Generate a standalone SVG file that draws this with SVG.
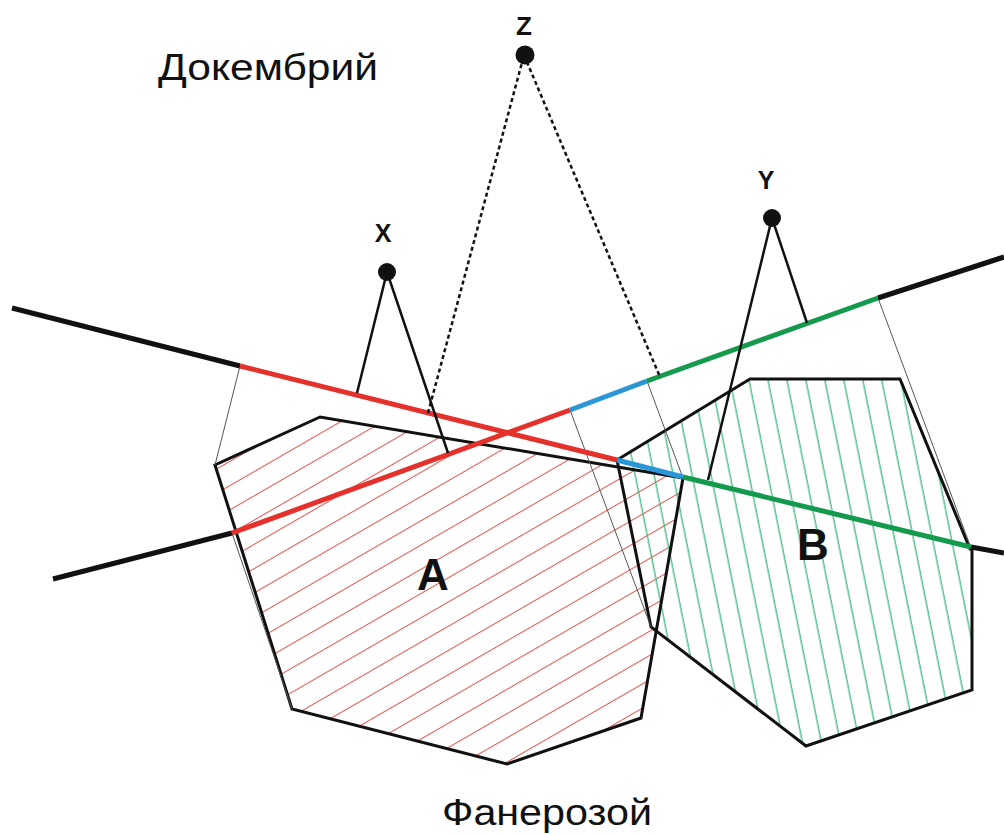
<svg xmlns="http://www.w3.org/2000/svg" width="1004" height="834" viewBox="0 0 1004 834">
<defs>
<style>
.poly{fill:none;stroke:#111;stroke-width:3;stroke-linejoin:miter}
.thin{stroke:#555;stroke-width:1;fill:none}
.prof{stroke-width:5;fill:none;stroke-linecap:butt}
.blk{stroke:#111}
.red{stroke:#e4312b}
.blu{stroke:#2b96d6}
.grn{stroke:#149a4d}
.leg{stroke:#111;stroke-width:2.5;fill:none}
.dash{stroke:#111;stroke-width:2.5;stroke-dasharray:4 3;fill:none}
.lbl{font-family:"Liberation Sans",Arial,sans-serif;font-weight:bold;fill:#111;text-anchor:middle}
.era{font-family:"Liberation Sans",Arial,sans-serif;font-size:36px;fill:#111}
</style>
<pattern id="hatchA" patternUnits="userSpaceOnUse" width="200" height="21" patternTransform="rotate(-30)">
<line x1="0" y1="10.5" x2="200" y2="10.5" stroke="#e8554f" stroke-width="1"/>
</pattern>
<pattern id="hatchB" patternUnits="userSpaceOnUse" width="18.6" height="200" patternTransform="rotate(-11.3)">
<line x1="9" y1="0" x2="9" y2="200" stroke="#2fb374" stroke-width="1.2"/>
</pattern>
</defs>
<rect width="1004" height="834" fill="#fff"/>

<g id="polygonA">
<polygon points="320,417 215,465 292,709 507,764 641,718 683,478" fill="url(#hatchA)" stroke="none"/>
</g>
<g id="polygonB">
<polygon points="617,460 750,379 900,379 970,549 972,549 972,690 806,746 651,627" fill="url(#hatchB)" stroke="none"/>
</g>
<g id="outlines">
<polygon class="poly" points="320,417 215,465 292,709 507,764 641,718 683,478"/>
<polygon class="poly" points="617,460 750,379 900,379 970,549 972,549 972,690 806,746 651,627"/>
</g>

<g id="connectors">
<line class="thin" x1="240" y1="366" x2="215" y2="465"/>
<line class="thin" x1="232" y1="533" x2="292" y2="709"/>
<line class="thin" x1="570" y1="410" x2="651" y2="627"/>
<line class="thin" x1="647" y1="381" x2="683" y2="478"/>
<line class="thin" x1="878" y1="298" x2="971" y2="548"/>

<line class="prof blk" x1="12" y1="308" x2="240" y2="366"/>
<line class="prof red" x1="240" y1="366" x2="617" y2="460"/>
<line class="prof blu" x1="617" y1="460" x2="683" y2="477"/>
<line class="prof grn" x1="683" y1="477" x2="971" y2="547"/>
<line class="prof blk" x1="971" y1="547" x2="1004" y2="553"/>

<line class="prof blk" x1="53" y1="579" x2="232" y2="533"/>
<line class="prof red" x1="232" y1="533" x2="570" y2="410"/>
<line class="prof blu" x1="570" y1="410" x2="647" y2="381"/>
<line class="prof grn" x1="647" y1="381" x2="878" y2="298"/>
<line class="prof blk" x1="878" y1="298" x2="1004" y2="257"/>

<polyline class="leg" points="357,393 387,272 448,453"/>
<polyline class="leg" points="708,480 772,218 807,323"/>
<polyline class="dash" points="428,413 524,55 660,377"/>
</g>

<g id="nodeX"><circle cx="387" cy="272" r="9" fill="#111"/><text class="lbl" x="383" y="242" font-size="25">X</text></g>
<g id="nodeY"><circle cx="772" cy="218" r="9" fill="#111"/><text class="lbl" x="766" y="189" font-size="25">Y</text></g>
<g id="nodeZ"><circle cx="525" cy="55" r="9.5" fill="#111"/><text class="lbl" x="524" y="35" font-size="26">Z</text></g>
<g id="labelA"><text class="lbl" x="433" y="590" font-size="44">A</text></g>
<g id="labelB"><text class="lbl" x="813" y="560" font-size="44">B</text></g>
<g id="eraTop"><text class="era" x="158" y="80" textLength="220" lengthAdjust="spacingAndGlyphs">Докембрий</text></g>
<g id="eraBottom"><text class="era" x="442" y="825" textLength="210" lengthAdjust="spacingAndGlyphs">Фанерозой</text></g>
</svg>
